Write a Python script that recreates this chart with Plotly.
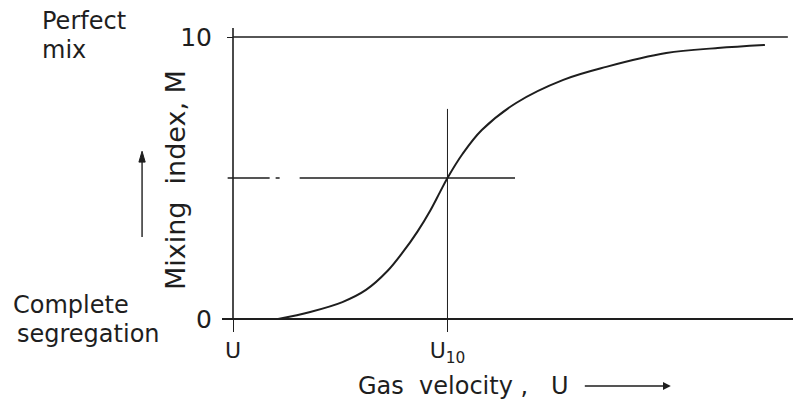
import plotly.graph_objects as go

# ---- data ----
# gas velocity in units of U10 (U10 = 1), mixing index M (0 = complete segregation, 10 = perfect mix)
gas_velocity = [0.21, 0.36, 0.51, 0.62, 0.72, 0.79, 0.86, 0.92, 0.965, 1.00,
                1.07, 1.16, 1.32, 1.54, 1.74, 2.02, 2.26, 2.48]
mixing_index = [0.0, 0.25, 0.60, 1.03, 1.70, 2.35, 3.10, 3.85, 4.50, 5.0,
                5.85, 6.70, 7.66, 8.48, 8.94, 9.43, 9.61, 9.72]

x_tick_vals = [0, 1]
x_tick_text = ["U", "U<sub>10</sub>"]
y_tick_vals = [0, 10]
y_tick_text = ["0", "10"]

perfect_mix_level = 10
half_mix_level = 5
u10 = 1.0
top_line_end = 2.587
half_line_extent = [-0.025, 1.315]
u10_line_top = 7.45
y_axis_top = 10.32

INK = "#1e1e1e"
FONT = "DejaVu Sans"

fig = go.Figure()

# y-axis line
fig.add_trace(go.Scatter(x=[0, 0], y=[y_axis_top, 0], mode="lines",
                         line=dict(color=INK, width=1.6), hoverinfo="skip"))
# perfect mix line
fig.add_trace(go.Scatter(x=[0, top_line_end], y=[perfect_mix_level] * 2, mode="lines",
                         line=dict(color=INK, width=1.6), hoverinfo="skip"))
# M = 5 dash-dot guide (also serves as the mid tick)
fig.add_trace(go.Scatter(x=half_line_extent, y=[half_mix_level] * 2, mode="lines",
                         line=dict(color=INK, width=1.3, dash="42px,6px,4px,20px,400px"),
                         hoverinfo="skip"))
# U10 vertical guide
fig.add_trace(go.Scatter(x=[u10, u10], y=[u10_line_top, 0], mode="lines",
                         line=dict(color=INK, width=1.0), hoverinfo="skip"))
# mixing curve
fig.add_trace(go.Scatter(x=gas_velocity, y=mixing_index, mode="lines",
                         line=dict(color=INK, width=2.0, shape="spline", smoothing=1.0),
                         hoverinfo="skip"))

fig.update_layout(
    width=793, height=400,
    margin=dict(l=222, r=0, t=20, b=40, autoexpand=False),
    paper_bgcolor="white", plot_bgcolor="white",
    showlegend=False,
    font=dict(family=FONT, color=INK),
    xaxis=dict(range=[-0.0513, 2.611], anchor="free", position=0.1206,
               showline=True, linecolor=INK, linewidth=1.8,
               ticks="outside", ticklen=12, tickwidth=1.2, tickcolor=INK,
               tickvals=x_tick_vals, ticktext=x_tick_text,
               tickfont=dict(size=22, family=FONT, color=INK),
               showgrid=False, zeroline=False),
    yaxis=dict(range=[-1.454, 10.603], anchor="free", position=0.0193,
               showline=False,
               ticks="outside", ticklen=6, tickwidth=1.2, tickcolor=INK,
               tickvals=y_tick_vals, ticktext=y_tick_text,
               tickfont=dict(size=25, family=FONT, color=INK),
               ticklabelstandoff=10,
               showgrid=False, zeroline=False),
)

# up arrow beside the y title (shaft + head)
fig.add_shape(type="line", xref="paper", yref="paper", x0=-0.140, x1=-0.140,
              y0=0.362, y1=0.600, line=dict(color=INK, width=1.4))
fig.add_shape(type="path", xref="paper", yref="paper",
              path="M -0.140 0.614 L -0.1455 0.582 L -0.1345 0.582 Z",
              fillcolor=INK, line=dict(color=INK, width=1))

label_font = dict(family=FONT, size=24, color=INK)
fig.add_annotation(text="Mixing  index, M", textangle=-90, xref="paper", yref="paper",
                   x=-0.113, y=0.529, showarrow=False, font=dict(family=FONT, size=27, color=INK))
# x title with its arrow pointing right
fig.add_annotation(text="Gas  velocity ,   U", xref="paper", yref="paper",
                   x=0.786, y=-0.0765, ax=-207, ay=0, showarrow=True, startstandoff=14,
                   arrowhead=2, arrowsize=1.2, arrowwidth=1.3, arrowcolor=INK,
                   font=dict(family=FONT, size=24, color=INK))
fig.add_annotation(text="Perfect", xref="paper", yref="paper", x=-0.3187, y=0.9971,
                   xanchor="left", yanchor="middle", showarrow=False, font=label_font)
fig.add_annotation(text="mix", xref="paper", yref="paper", x=-0.3187, y=0.9118,
                   xanchor="left", yanchor="middle", showarrow=False, font=label_font)
fig.add_annotation(text="Complete", xref="paper", yref="paper", x=-0.3695, y=0.1618,
                   xanchor="left", yanchor="middle", showarrow=False, font=label_font)
fig.add_annotation(text="segregation", xref="paper", yref="paper", x=-0.3625, y=0.0765,
                   xanchor="left", yanchor="middle", showarrow=False, font=label_font)

fig.write_html("out.html", config={"displayModeBar": False},
               post_script="document.body.style.margin='0';document.body.style.overflow='hidden';")
